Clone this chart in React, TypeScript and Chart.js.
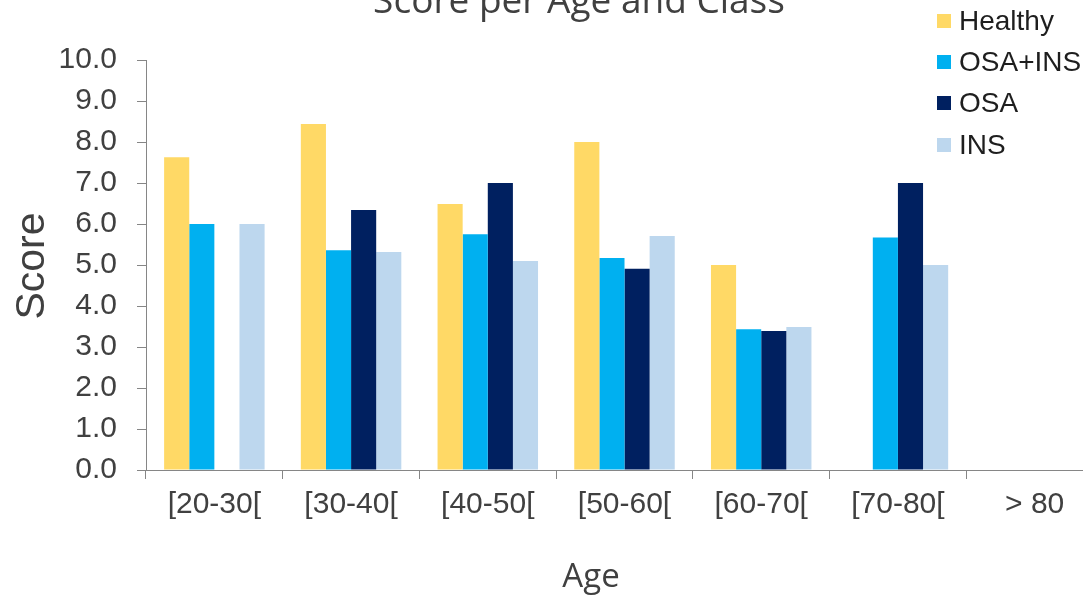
import React, { useEffect, useRef } from "react";
import { Chart, registerables } from "chart.js";

Chart.register(...registerables);

// Age groups on the x axis
const ageGroups = ["[20-30[", "[30-40[", "[40-50[", "[50-60[", "[60-70[", "[70-80[", "> 80"];

// Mean score per age group for each class (null = no subjects in that group)
const healthyScores = [7.63, 8.44, 6.49, 8.0, 5.0, null, null];
const osaInsScores = [6.0, 5.36, 5.75, 5.17, 3.43, 5.67, null];
const osaScores = [null, 6.34, 7.0, 4.91, 3.39, 7.0, null];
const insScores = [6.0, 5.32, 5.1, 5.71, 3.49, 5.0, null];

// Score axis ticks
const scoreTicks = [0, 1, 2, 3, 4, 5, 6, 7, 8, 9, 10];

const seriesNames = ["Healthy", "OSA+INS", "OSA", "INS"];
const seriesColors = ["#FFD966", "#00B0F0", "#002060", "#BDD7EE"];
const seriesValues = [healthyScores, osaInsScores, osaScores, insScores];

const chartTitle = "Score per Age and Class";
const xTitle = "Age";
const yTitle = "Score";

// canvas geometry (the canvas is shifted up so the title sits at the page top)
const CANVAS_W = 1120;
const CANVAS_H = 635;
const SHIFT_Y = 40;
const AREA_LEFT = 146;
const AREA_RIGHT = 1103;
const AREA_TOP = 60 + SHIFT_Y;
const AREA_BOTTOM = 470 + SHIFT_Y;

const TEXT_GREY = "#404040";
const AXIS_GREY = "#868686";

const titlesPlugin = {
  id: "titlesPlugin",
  afterDraw(chart: any) {
    const ctx = chart.ctx as CanvasRenderingContext2D;
    ctx.save();
    ctx.fillStyle = TEXT_GREY;
    ctx.textAlign = "center";

    ctx.font = '37px "Open Sans"';
    ctx.textBaseline = "alphabetic";
    ctx.fillText(chartTitle, 579, 12.7 + SHIFT_Y);

    ctx.font = '33px "Open Sans"';
    ctx.fillText(xTitle, 591, 586.7 + SHIFT_Y);

    ctx.translate(32.5, 266 + SHIFT_Y);
    ctx.rotate(-Math.PI / 2);
    ctx.font = '41px "Liberation Sans"';
    ctx.textBaseline = "middle";
    ctx.fillText(yTitle, 0, 0);
    ctx.restore();
  },
};

export default function App() {
  const canvasRef = useRef<HTMLCanvasElement | null>(null);

  useEffect(() => {
    if (!canvasRef.current) return;
    const chart = new Chart(canvasRef.current, {
      type: "bar",
      data: {
        labels: ageGroups,
        datasets: seriesNames.map((name, i) => ({
          label: name,
          data: seriesValues[i],
          backgroundColor: seriesColors[i],
          borderWidth: 0,
          categoryPercentage: 0.735,
          barPercentage: 1,
        })),
      },
      options: {
        responsive: false,
        animation: false,
        devicePixelRatio: 1,
        layout: {
          padding: { top: AREA_TOP, right: CANVAS_W - AREA_RIGHT, left: 0, bottom: 0 },
        },
        plugins: {
          legend: { display: false },
          title: { display: false },
          tooltip: { enabled: false },
        },
        scales: {
          x: {
            grid: {
              offset: true,
              drawOnChartArea: false,
              drawTicks: true,
              tickLength: 9,
              color: AXIS_GREY,
            },
            border: { color: AXIS_GREY, width: 1 },
            ticks: {
              autoSkip: false,
              maxRotation: 0,
              minRotation: 0,
              padding: 8,
              color: TEXT_GREY,
              font: { family: '"Liberation Sans"', size: 30 },
            },
            afterFit(scale: any) {
              scale.height = CANVAS_H - AREA_BOTTOM;
            },
          },
          y: {
            min: scoreTicks[0],
            max: scoreTicks[scoreTicks.length - 1],
            afterBuildTicks(scale: any) {
              scale.ticks = scoreTicks.map((v) => ({ value: v }));
            },
            grid: {
              drawOnChartArea: false,
              drawTicks: true,
              tickLength: 9,
              color: AXIS_GREY,
            },
            border: { color: AXIS_GREY, width: 1 },
            ticks: {
              padding: 20,
              color: TEXT_GREY,
              font: { family: '"Liberation Sans"', size: 30 },
              callback: (v: any) => Number(v).toFixed(1),
            },
            afterFit(scale: any) {
              scale.width = AREA_LEFT;
            },
          },
        },
      },
      plugins: [titlesPlugin],
    });
    return () => chart.destroy();
  }, []);

  return (
    <div
      style={{
        position: "fixed",
        left: 0,
        top: 0,
        width: 1083,
        height: 595,
        overflow: "hidden",
        background: "#ffffff",
      }}
    >
      <canvas
        ref={canvasRef}
        width={CANVAS_W}
        height={CANVAS_H}
        style={{ position: "absolute", left: 0, top: -SHIFT_Y, width: CANVAS_W, height: CANVAS_H }}
      />
      <div style={{ position: "absolute", left: 937, top: 0 }}>
        {seriesNames.map((name, i) => (
          <div
            key={name}
            style={{
              display: "flex",
              alignItems: "center",
              height: 41.3,
              fontFamily: '"Liberation Sans"',
              fontSize: 28,
              color: "#1e1e1e",
              whiteSpace: "nowrap",
            }}
          >
            <span
              style={{
                display: "inline-block",
                width: 14,
                height: 14,
                background: seriesColors[i],
                marginRight: 8,
              }}
            />
            {name}
          </div>
        ))}
      </div>
    </div>
  );
}
